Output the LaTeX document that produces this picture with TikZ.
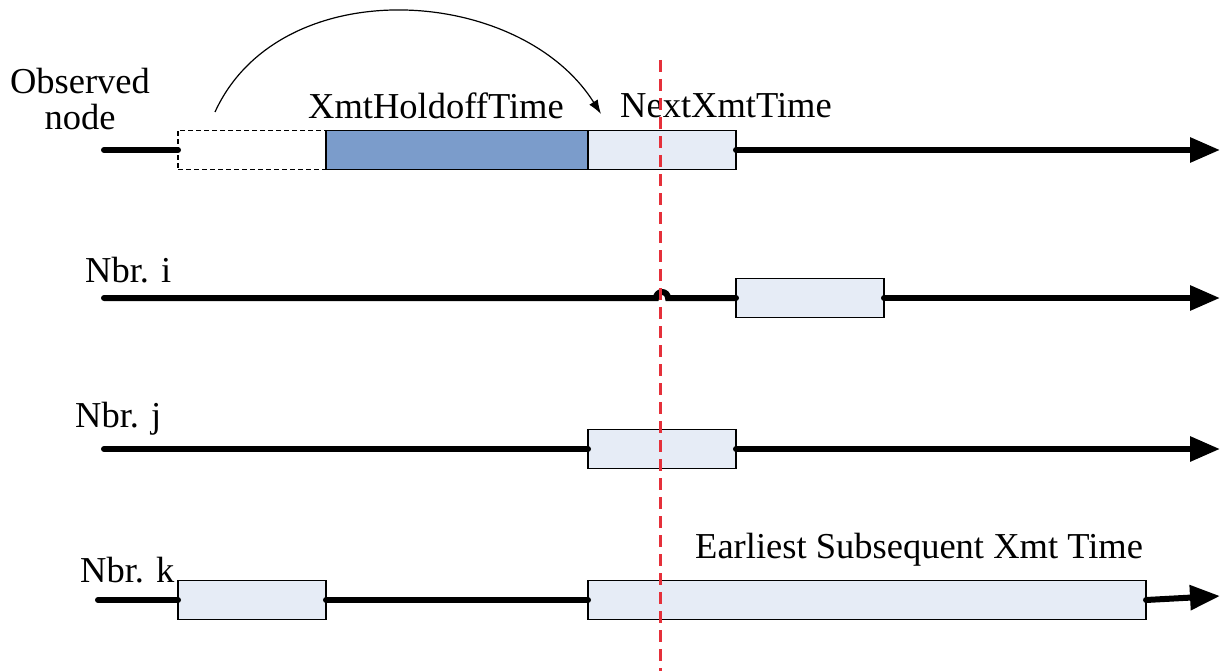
\documentclass[tikz,border=0pt]{standalone}
\usepackage{fontspec}
\setmainfont{Liberation Serif}
\usetikzlibrary{arrows.meta}
\definecolor{holdblue}{HTML}{7B9CCB}
\definecolor{lightbox}{HTML}{E6ECF6}
\definecolor{reddash}{HTML}{E5303A}
\tikzset{
  tl/.style={line width=6pt, line cap=round},
  tlarrow/.style={tl, -{Triangle[length=30pt,width=24pt]}},
  slot/.style={draw, line width=1.8pt, fill=lightbox, inner sep=0pt, outer sep=0pt, anchor=north west, minimum width=148pt, minimum height=39pt},
  lbl/.style={font=\fontsize{36.5}{40}\selectfont, inner sep=0pt},
}
\begin{document}
\begin{tikzpicture}[x=1pt,y=-1pt]
\useasboundingbox (0,0) rectangle (1222,671);
% Observed node row
\node[slot, fill=white, dash pattern=on 5pt off 3pt, line width=1.4pt] (pre) at (178,130.5) {};
\node[slot, fill=holdblue, minimum width=262pt] (hold) at (326,130.5) {};
\node[slot] (next) at (588,130.5) {};
\coordinate (s1) at (104,150);
\coordinate (e1) at (1220,150);
\draw[tl] (s1) -- (pre.west);
\draw[tlarrow] (next.east) -- (e1);
\node[lbl, align=center] (obs) at (80,99) {Observed\\[-4pt]node};
\node[lbl, anchor=west] (holdlbl) at (308,106) {XmtHoldoffTime};
\node[lbl, anchor=west] (nextlbl) at (620,106) {NextXmtTime};
\draw[line width=1.2pt, -{Latex[length=14pt,width=10pt]}] (215,112) .. controls (280,-30) and (520,-15) .. (601,114);
% Nbr i
\coordinate (s2) at (104,298);
\coordinate (e2) at (1220,298);
\node[slot] (bi) at (736,278.5) {};
\coordinate (h1) at (656,298);
\draw[tl] (s2) -- (h1) arc[start angle=180, end angle=0, radius=6pt] -- (bi.west);
\draw[tlarrow] (bi.east) -- (e2);
\node[lbl, anchor=west] (li) at (85,270) {Nbr. i};
% Nbr j
\coordinate (s3) at (104,449);
\coordinate (e3) at (1220,449);
\node[slot] (bj) at (588,429.5) {};
\draw[tl] (s3) -- (bj.west);
\draw[tlarrow] (bj.east) -- (e3);
\node[lbl, anchor=west] (lj) at (75,419) {Nbr. j};
% Nbr k
\coordinate (s4) at (98,600);
\coordinate (e4) at (1220,596);
\node[slot] (bk1) at (178,580.5) {};
\node[slot, minimum width=558pt] (bk2) at (588,580.5) {};
\draw[tl] (s4) -- (bk1.west);
\draw[tl] (bk1.east) -- (bk2.west);
\draw[tlarrow] (bk2.east) -- (e4);
\node[lbl, anchor=west] (lk) at (80,570) {Nbr. k};
\node[lbl, anchor=west] (lest) at (695,550) {Earliest Subsequent Xmt Time};
% red dashed marker
\coordinate (rt) at (660,60);
\coordinate (rb) at (660,671);
\draw[reddash, line width=3pt, dash pattern=on 12pt off 7pt] (rt) -- (rb);
\end{tikzpicture}
\end{document}
